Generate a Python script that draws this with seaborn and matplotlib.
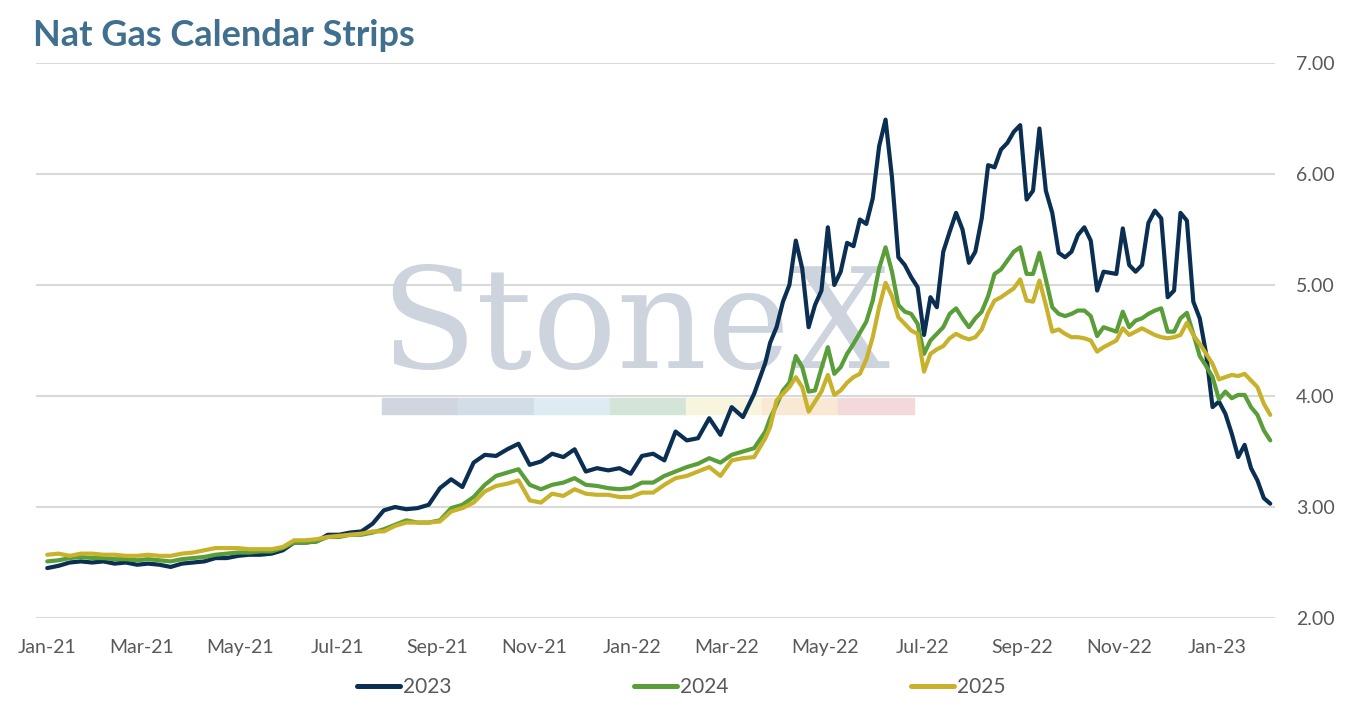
import pandas as pd
import matplotlib.pyplot as plt
import matplotlib.dates as mdates
from matplotlib.patches import Rectangle
import seaborn as sns

# ------------------------------
# data
# ------------------------------
# weekly points Jan-2021 .. Mar-2022, then every 4 days to Feb-2023
dates_weekly = pd.date_range("2021-01-01", periods=65, freq="7D")
dates_4day = pd.date_range("2022-03-28", periods=79, freq="4D")

strip_2023_weekly = [
    2.45, 2.47, 2.50, 2.51, 2.50, 2.51, 2.49, 2.50, 2.48, 2.49,
    2.48, 2.46, 2.49, 2.50, 2.51, 2.54, 2.54, 2.56, 2.57, 2.57,
    2.58, 2.61, 2.68, 2.68, 2.69, 2.75, 2.75, 2.77, 2.78, 2.85,
    2.97, 3.00, 2.98, 2.99, 3.02, 3.17, 3.25, 3.18, 3.40, 3.47,
    3.46, 3.52, 3.57, 3.38, 3.41, 3.48, 3.45, 3.52, 3.32, 3.35,
    3.33, 3.35, 3.30, 3.46, 3.48, 3.42, 3.68, 3.60, 3.62, 3.80,
    3.65, 3.90, 3.81, 4.02, 4.30,
]
strip_2023_4day = [
    4.48, 4.62, 4.85, 5.00, 5.40, 5.15, 4.62, 4.82, 4.95, 5.52,
    5.00, 5.12, 5.38, 5.35, 5.59, 5.55, 5.78, 6.25, 6.49, 5.97,
    5.25, 5.18, 5.07, 4.98, 4.55, 4.89, 4.80, 5.30, 5.48, 5.65,
    5.50, 5.20, 5.30, 5.60, 6.08, 6.06, 6.22, 6.28, 6.38, 6.44,
    5.77, 5.85, 6.41, 5.85, 5.65, 5.29, 5.25, 5.30, 5.45, 5.52,
    5.40, 4.95, 5.12, 5.11, 5.10, 5.51, 5.18, 5.12, 5.18, 5.56,
    5.67, 5.60, 4.89, 4.95, 5.65, 5.58, 4.85, 4.70, 4.38, 3.90,
    3.95, 3.84, 3.66, 3.45, 3.56, 3.35, 3.24, 3.08, 3.03,
]

strip_2024_weekly = [
    2.51, 2.52, 2.54, 2.55, 2.54, 2.54, 2.53, 2.53, 2.52, 2.53,
    2.52, 2.51, 2.53, 2.54, 2.55, 2.57, 2.58, 2.59, 2.59, 2.60,
    2.60, 2.63, 2.68, 2.68, 2.69, 2.73, 2.73, 2.75, 2.75, 2.77,
    2.80, 2.84, 2.88, 2.86, 2.86, 2.88, 2.99, 3.02, 3.09, 3.20,
    3.28, 3.31, 3.34, 3.20, 3.16, 3.20, 3.22, 3.26, 3.20, 3.19,
    3.17, 3.16, 3.17, 3.22, 3.22, 3.28, 3.32, 3.36, 3.39, 3.44,
    3.40, 3.47, 3.50, 3.53, 3.68,
]
strip_2024_4day = [
    3.80, 3.92, 4.05, 4.12, 4.36, 4.26, 4.04, 4.05, 4.25, 4.44,
    4.20, 4.26, 4.38, 4.47, 4.57, 4.67, 4.86, 5.15, 5.34, 5.12,
    4.82, 4.76, 4.74, 4.65, 4.38, 4.50, 4.56, 4.62, 4.74, 4.79,
    4.70, 4.62, 4.70, 4.76, 4.90, 5.10, 5.14, 5.22, 5.30, 5.34,
    5.10, 5.10, 5.29, 5.05, 4.80, 4.74, 4.72, 4.74, 4.77, 4.77,
    4.72, 4.54, 4.62, 4.60, 4.58, 4.76, 4.62, 4.68, 4.70, 4.74,
    4.77, 4.79, 4.58, 4.58, 4.70, 4.75, 4.56, 4.36, 4.27, 4.17,
    3.97, 4.04, 3.98, 4.01, 4.01, 3.90, 3.83, 3.69, 3.60,
]

strip_2025_weekly = [
    2.57, 2.58, 2.56, 2.58, 2.58, 2.57, 2.57, 2.56, 2.56, 2.57,
    2.56, 2.56, 2.58, 2.59, 2.61, 2.63, 2.63, 2.63, 2.62, 2.62,
    2.62, 2.64, 2.70, 2.70, 2.71, 2.73, 2.74, 2.75, 2.76, 2.78,
    2.78, 2.83, 2.86, 2.86, 2.86, 2.87, 2.96, 2.99, 3.04, 3.14,
    3.19, 3.21, 3.24, 3.06, 3.04, 3.12, 3.10, 3.16, 3.12, 3.11,
    3.11, 3.09, 3.09, 3.13, 3.13, 3.20, 3.26, 3.28, 3.32, 3.36,
    3.28, 3.42, 3.44, 3.45, 3.62,
]
strip_2025_4day = [
    3.72, 3.96, 4.02, 4.08, 4.17, 4.08, 3.86, 3.95, 4.04, 4.19,
    4.01, 4.05, 4.12, 4.17, 4.20, 4.33, 4.53, 4.80, 5.02, 4.90,
    4.71, 4.65, 4.59, 4.56, 4.22, 4.38, 4.42, 4.45, 4.52, 4.56,
    4.53, 4.51, 4.53, 4.60, 4.75, 4.86, 4.89, 4.93, 4.97, 5.05,
    4.86, 4.85, 5.04, 4.82, 4.58, 4.60, 4.56, 4.53, 4.53, 4.52,
    4.50, 4.40, 4.44, 4.47, 4.50, 4.61, 4.55, 4.58, 4.61, 4.58,
    4.55, 4.53, 4.52, 4.53, 4.55, 4.66, 4.55, 4.47, 4.38, 4.29,
    4.15, 4.17, 4.19, 4.18, 4.20, 4.14, 4.08, 3.93, 3.83,
]

series_names = ["2023", "2024", "2025"]
series_colors = ["#0b2f52", "#5a9e3a", "#c9b22b"]
tick_dates = pd.date_range("2021-01-01", "2023-01-01", freq="2MS")

# ------------------------------
# long format table
# ------------------------------
dates = list(dates_weekly) + list(dates_4day)
df = pd.concat([
    pd.DataFrame({"date": dates, "price": strip_2023_weekly + strip_2023_4day, "strip": "2023"}),
    pd.DataFrame({"date": dates, "price": strip_2024_weekly + strip_2024_4day, "strip": "2024"}),
    pd.DataFrame({"date": dates, "price": strip_2025_weekly + strip_2025_4day, "strip": "2025"}),
])

# ------------------------------
# figure
# ------------------------------
sns.set_style("white")
plt.rcParams["font.family"] = ["Lato", "DejaVu Sans"]

fig = plt.figure(figsize=(13.54, 7.08), dpi=100)
ax = fig.add_axes([0.0266, 0.1271, 0.9151, 0.7839])

# watermark, kept under the lines
ax.text(380 / 1354, 0.480, "StoneX", family="DejaVu Serif", fontsize=101,
        color="#cdd4de", va="baseline", ha="left", zorder=1,
        transform=fig.transFigure)
band_colors = ["#cfd6df", "#d3dde8", "#deebf3", "#d5e4d8", "#f7f5de", "#f9e8d3", "#f3d9da"]
for i, c in enumerate(band_colors):
    ax.add_patch(Rectangle(((382 + i * 76) / 1354, (708 - 414) / 708), 76 / 1354, 16 / 708,
                           transform=fig.transFigure, color=c, zorder=1, clip_on=False))

sns.lineplot(data=df, x="date", y="price", hue="strip", hue_order=series_names,
             palette=series_colors, linewidth=3.0, ax=ax, zorder=3)

ax.set_ylim(2, 7)
ax.set_yticks([2, 3, 4, 5, 6, 7])
ax.yaxis.set_major_formatter(plt.FuncFormatter(lambda v, p: f"{v:.2f}"))
ax.yaxis.tick_right()
ax.set_xlim(pd.Timestamp("2020-12-25"), pd.Timestamp("2023-02-06"))
ax.set_xticks(tick_dates)
ax.xaxis.set_major_formatter(mdates.DateFormatter("%b-%y"))
ax.tick_params(axis="y", length=0, pad=15, labelsize=14, labelcolor="#595959")
ax.tick_params(axis="x", length=0, pad=15, labelsize=14, labelcolor="#595959")
ax.grid(axis="y", color="#d9d9d9", linewidth=1.5, zorder=0)
ax.grid(axis="x", visible=False)
ax.set_axisbelow(True)
for s in ax.spines.values():
    s.set_visible(False)
ax.set_xlabel("")
ax.set_ylabel("")

leg = ax.legend(ncol=3, loc="center", bbox_to_anchor=(0.503, 0.0297),
                bbox_transform=fig.transFigure, frameon=False, fontsize=15,
                handlelength=2.07, handletextpad=0.15, columnspacing=8.75)
for line in leg.get_lines():
    line.set_linewidth(3.6)
    line.set_solid_capstyle("round")
for t in leg.get_texts():
    t.set_color("#595959")

fig.text(33 / 1354, (708 - 36) / 708, "Nat Gas Calendar Strips", fontsize=26,
         fontweight="bold", color="#41708f", va="center", ha="left")

fig.savefig("out.png", dpi=100)
